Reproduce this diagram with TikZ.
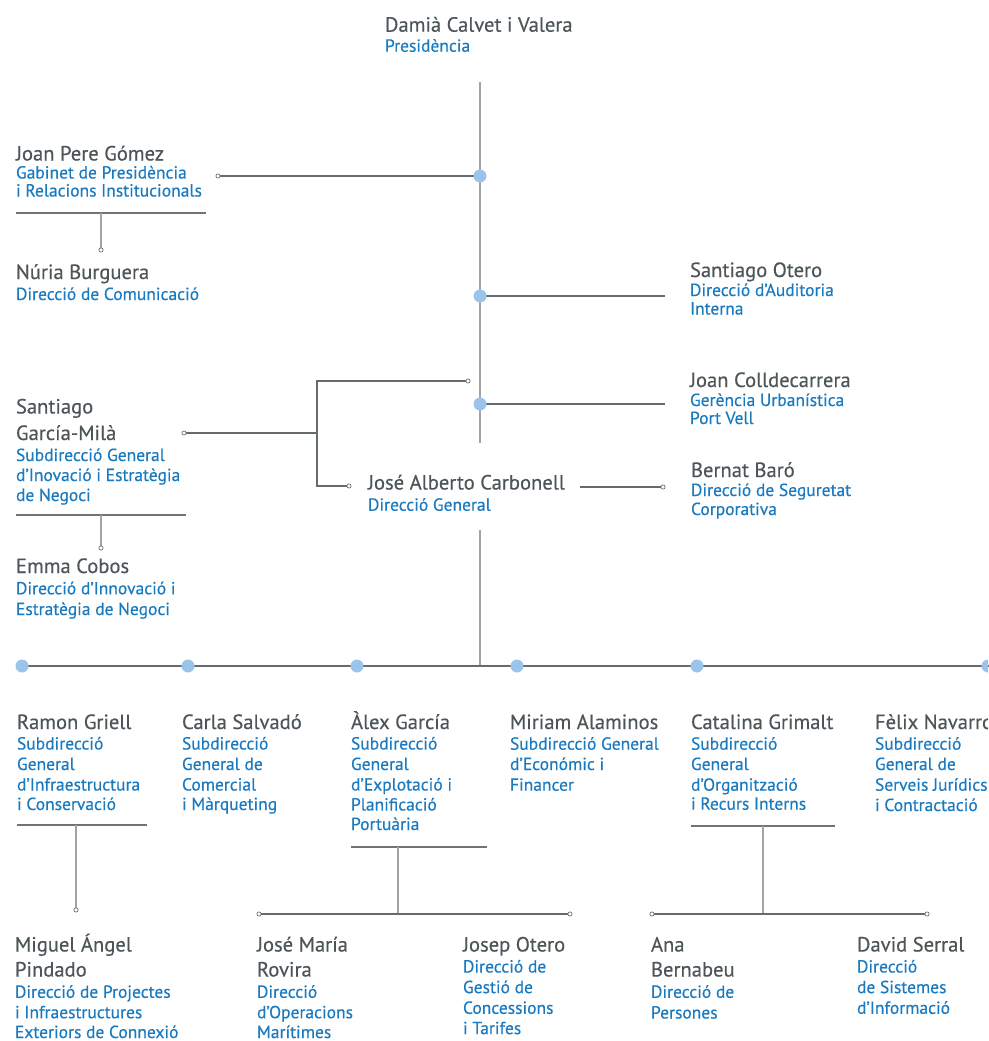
\documentclass[tikz,border=0pt]{standalone}
\usepackage{fontspec}
\setmainfont{PT Sans}
\newfontfamily\nmfam[FakeBold=0.35]{PT Sans}
\newfontfamily\blfam[FakeBold=0.45]{PT Sans}
\usetikzlibrary{backgrounds}
\definecolor{nmc}{HTML}{4D5559}
\definecolor{blc}{HTML}{1A7AC0}
\definecolor{ln}{HTML}{656C70}
\definecolor{lnl}{HTML}{A0A4A7}
\definecolor{ulc}{HTML}{6E7477}
\definecolor{dotc}{HTML}{9CC4EA}
\newcommand\nmfont{\nmfam\fontsize{20.6}{25}\selectfont}
\newcommand\blfont{\blfam\fontsize{17.5}{20}\selectfont}
\newcommand\NL[2]{\baselineskip=#1pt\hbox{\nmfont\color{nmc}#2}}
\newcommand\BL[2]{\baselineskip=#1pt\hbox{\blfont\color{blc}#2}}
\newcommand\pbox[1]{\vtop{\lineskiplimit=-100pt\lineskip=0pt #1}}
\tikzset{
  person/.style={anchor=base west, inner sep=0pt, outer sep=0pt},
  bdot/.style={circle, fill=dotc, inner sep=0pt, minimum size=13pt},
  oc/.style={circle, draw=ln, fill=white, line width=0.7pt, inner sep=0pt, minimum size=4.2pt},
  hl/.style={draw=ln, line width=1.3pt},
  vl/.style={draw=lnl, line width=2pt},
  ul/.style={draw=ulc, line width=1.2pt},
  sl/.style={draw=lnl, line width=1.6pt},
}
\begin{document}
\begin{tikzpicture}[x=1pt,y=-1pt]
\useasboundingbox (0,0) rectangle (988,1041);
\clip (0,0) rectangle (988,1041);

% ---------- people ----------
\node[person] (damia) at (385,31.7) {\pbox{\NL{25}{Damià Calvet i Valera}\BL{20}{Presidència}}};
\node[person] (joanpere) at (16,160.5) {\pbox{\NL{25}{Joan Pere Gómez}\BL{18}{Gabinet de Presidència}\BL{18}{i Relacions Institucionals}}};
\node[person] (nuria) at (16,279) {\pbox{\NL{25}{Núria Burguera}\BL{21}{Direcció de Comunicació}}};
\node[person] (sotero) at (690,277) {\pbox{\NL{25}{Santiago Otero}\BL{19}{Direcció d’Auditoria}\BL{18.5}{Interna}}};
\node[person] (colld) at (690,387) {\pbox{\NL{25}{Joan Colldecarrera}\BL{19}{Gerència Urbanística}\BL{18}{Port Vell}}};
\node[person] (sgarcia) at (16,413.5) {\pbox{\NL{25}{Santiago}\NL{26.5}{García-Milà}\BL{21}{Subdirecció General}\BL{20}{d’Inovació i Estratègia}\BL{20}{de Negoci}}};
\node[person] (emma) at (16,573) {\pbox{\NL{25}{Emma Cobos}\BL{21.3}{Direcció d’Innovació i}\BL{20.7}{Estratègia de Negoci}}};
\node[person] (carbonell) at (368,489.5) {\pbox{\NL{25}{José Alberto Carbonell}\BL{21.2}{Direcció General}}};
\node[person] (bernat) at (691,477) {\pbox{\NL{25}{Bernat Baró}\BL{19}{Direcció de Seguretat}\BL{19}{Corporativa}}};

\node[person] (ramon) at (17,729) {\pbox{\NL{25}{Ramon Griell}\BL{20.5}{Subdirecció}\BL{20.5}{General}\BL{20.5}{d’Infraestructura}\BL{19.5}{i Conservació}}};
\node[person] (carla) at (182,729) {\pbox{\NL{25}{Carla Salvadó}\BL{20.5}{Subdirecció}\BL{20.5}{General de}\BL{20.5}{Comercial}\BL{19.5}{i Màrqueting}}};
\node[person] (alex) at (351,729) {\pbox{\NL{25}{Àlex García}\BL{20.5}{Subdirecció}\BL{20.5}{General}\BL{20.5}{d’Explotació i}\BL{20}{Planificació}\BL{19.5}{Portuària}}};
\node[person] (miriam) at (510,729) {\pbox{\NL{25}{Miriam Alaminos}\BL{20.7}{Subdirecció General}\BL{20.3}{d’Económic i}\BL{20.7}{Financer}}};
\node[person] (catalina) at (691,729) {\pbox{\NL{25}{Catalina Grimalt}\BL{20.7}{Subdirecció}\BL{20.3}{General}\BL{20.7}{d’Organització}\BL{19}{i Recurs Interns}}};
\node[person] (felix) at (875,729) {\pbox{\NL{25}{Fèlix Navarro}\BL{20.7}{Subdirecció}\BL{20.3}{General de}\BL{20.7}{Serveis Jurídics}\BL{20.3}{i Contractació}}};

\node[person] (miguel) at (15,951.5) {\pbox{\NL{25}{Miguel Ángel}\NL{25}{Pindado}\BL{21.3}{Direcció de Projectes}\BL{20.4}{i Infraestructures}\BL{19.8}{Exteriors de Connexió}}};
\node[person] (josemaria) at (257,951.5) {\pbox{\NL{25}{José María}\NL{25}{Rovira}\BL{21.3}{Direcció}\BL{20.4}{d’Operacions}\BL{19.8}{Marítimes}}};
\node[person] (josep) at (463,951.5) {\pbox{\NL{25}{Josep Otero}\BL{21}{Direcció de}\BL{20.6}{Gestió de}\BL{20.7}{Concessions}\BL{20.3}{i Tarifes}}};
\node[person] (ana) at (651,951.5) {\pbox{\NL{25}{Ana}\NL{25}{Bernabeu}\BL{21.3}{Direcció de}\BL{20.7}{Persones}}};
\node[person] (david) at (857,951.5) {\pbox{\NL{25}{David Serral}\BL{21}{Direcció}\BL{20.6}{de Sistemes}\BL{20.7}{d’Informació}}};

% ---------- joints ----------
\node[bdot] (d1) at (480,176) {};
\node[bdot] (d2) at (480,296) {};
\node[bdot] (d3) at (480,404) {};
\node[bdot] (b1) at (22,666) {};
\node[bdot] (b2) at (188,666) {};
\node[bdot] (b3) at (357,666) {};
\node[bdot] (b4) at (517,666) {};
\node[bdot] (b5) at (697,666) {};
\node[bdot] (b6) at (988,666) {};

\node[oc] (c1) at (218,176) {};
\node[oc] (c2) at (101,250) {};
\node[oc] (c5) at (184,433) {};
\node[oc] (c6) at (468,381) {};
\node[oc] (c7) at (349,486) {};
\node[oc] (c8) at (101,548) {};
\node[oc] (c9) at (663,487) {};
\node[oc] (c10) at (76,910) {};
\node[oc] (c11) at (259,914) {};
\node[oc] (c12) at (570,914) {};
\node[oc] (c13) at (652,914) {};
\node[oc] (c14) at (927,914) {};

\coordinate (top) at (480,82);
\coordinate (vb1) at (480,443);
\coordinate (vt2) at (480,530);
\coordinate (vb2) at (480,666);
\coordinate (e2) at (665,296);
\coordinate (e3) at (665,404);
\coordinate (e4) at (580,487);
\coordinate (j1) at (317,381);
\coordinate (j2) at (317,486);
\coordinate (j3) at (317,433);
\coordinate (rend) at (1000,666);
\coordinate (u1a) at (16,213);   \coordinate (u1b) at (206,213);  \coordinate (u1m) at (101,213);
\coordinate (u2a) at (16,515);   \coordinate (u2b) at (186,515);  \coordinate (u2m) at (101,515);
\coordinate (u3a) at (17,825);   \coordinate (u3b) at (147,825);  \coordinate (u3m) at (76,825);
\coordinate (u4a) at (351,847);  \coordinate (u4b) at (487,847);  \coordinate (u4m) at (398,847);
\coordinate (u5a) at (691,826);  \coordinate (u5b) at (835,826);  \coordinate (u5m) at (763,826);
\coordinate (k4) at (398,914);
\coordinate (k5) at (763,914);

\begin{pgfonlayer}{background}
  \draw[vl] (top) -- (vb1);
  \draw[vl] (vt2) -- (vb2);
  \draw[hl] (c1) -- (d1.center);
  \draw[hl] (d2.center) -- (e2);
  \draw[hl] (d3.center) -- (e3);
  \draw[hl] (c6) -- (j1) -- (j2) -- (c7);
  \draw[hl] (c5) -- (j3);
  \draw[hl] (e4) -- (c9);
  \draw[hl] (b1.center) -- (rend);
  \draw[ul] (u1a) -- (u1b);
  \draw[sl] (u1m) -- (c2);
  \draw[ul] (u2a) -- (u2b);
  \draw[sl] (u2m) -- (c8);
  \draw[ul] (u3a) -- (u3b);
  \draw[sl] (u3m) -- (c10);
  \draw[ul] (u4a) -- (u4b);
  \draw[sl] (u4m) -- (k4);
  \draw[hl] (c11) -- (c12);
  \draw[ul] (u5a) -- (u5b);
  \draw[sl] (u5m) -- (k5);
  \draw[hl] (c13) -- (c14);
\end{pgfonlayer}
\end{tikzpicture}
\end{document}
